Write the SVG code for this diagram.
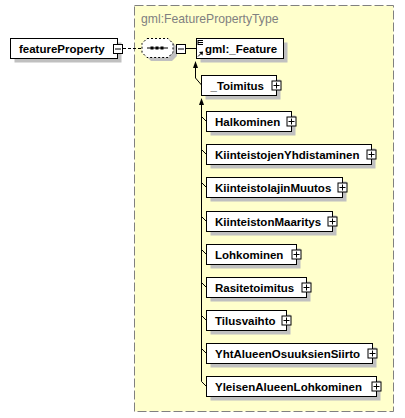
<svg xmlns="http://www.w3.org/2000/svg" width="405" height="418" viewBox="0 0 405 418">
<style>
.box{fill:#fff;stroke:#000;stroke-width:1}
.sh{fill:#c0c0c0}
.lbl{font-family:"Liberation Sans",Arial,sans-serif;font-weight:bold;font-size:11.5px;fill:#000}
.ln{stroke:#000;stroke-width:1;fill:none}
.pm{fill:#fff;stroke:#000;stroke-width:1}
</style>
<defs>
<g id="plus"><rect class="pm" x="-4.5" y="-4.5" width="9" height="9"/><path class="ln" d="M-3,0H3M0,-3V3"/></g>
<g id="minus"><rect class="pm" x="-4.5" y="-4.5" width="9" height="9"/><path class="ln" d="M-3,0H3"/></g>
</defs>
<rect x="134.5" y="5.5" width="259" height="406" fill="#ffffcc" stroke="#808080" stroke-dasharray="9,3"/>
<text x="141" y="23" font-family="Liberation Sans,Arial,sans-serif" font-size="12.2" fill="#808080">gml:FeaturePropertyType</text>

<g id="connectors">
<path class="ln" d="M123,48.5H142" stroke-dasharray="3,2"/>
<path class="ln" d="M186,48.5H196"/>
<path class="ln" d="M195.5,66V78L201.5,85"/>
<polygon points="195.5,61 193,68 198,68" fill="#000"/>
<path class="ln" d="M201.5,103V381.5"/>
<polygon points="201.5,98 199,105 204,105" fill="#000"/>
<path class="ln" d="M201.5,116.5L206.5,121.5M201.5,149.5L206.5,154.5M201.5,182.5L206.5,187.5M201.5,216.5L206.5,221.5M201.5,249.5L206.5,254.5M201.5,282.5L206.5,287.5M201.5,315.5L206.5,320.5M201.5,348.5L206.5,353.5M201.5,381.5L206.5,386.5"/>
</g>

<g id="featureProperty">
<rect class="sh" x="14.5" y="42.5" width="107" height="20"/>
<rect class="box" x="10.5" y="38.5" width="107" height="20"/>
<text class="lbl" x="19" y="53" font-size="11.9">featureProperty</text>
<use href="#minus" x="118" y="49"/>
</g>

<g id="sequence">
<polygon class="sh" points="151,42 172,42 177,47 177,56 172,61 151,61 146,56 146,47"/>
<polygon points="147,38.5 168,38.5 173,43.5 173,52.5 168,57.5 147,57.5 142,52.5 142,43.5" fill="#fff" stroke="#000" stroke-dasharray="2,2"/>
<path class="ln" d="M147,48H168"/>
<rect x="150.5" y="46.5" width="3" height="3"/>
<rect x="155.5" y="46.5" width="3" height="3"/>
<rect x="160.5" y="46.5" width="3" height="3"/>
<use href="#minus" x="181" y="49"/>
</g>

<g id="Feature">
<rect class="sh" x="200.5" y="42.5" width="87" height="20"/>
<rect class="box" x="196.5" y="38.5" width="87" height="20"/>
<path class="ln" d="M198,40.5H203M198,42.5H203M198,44.5H203M198,40V45"/>
<path class="ln" d="M198,56.5L202,52.5"/>
<polygon points="203,51.5 199,52 202.5,55.5" fill="#000"/>
<text class="lbl" x="205" y="53">gml:_Feature</text>
</g>

<g id="Toimitus">
<rect class="sh" x="205.5" y="79.5" width="75" height="20"/>
<rect class="box" x="201.5" y="75.5" width="75" height="20"/>
<text class="lbl" x="210.5" y="90">_Toimitus</text>
<use href="#plus" x="276.5" y="85.5"/>
</g>

<g id="Halkominen">
<rect class="sh" x="210.5" y="115.5" width="85" height="20"/>
<rect class="box" x="206.5" y="111.5" width="85" height="20"/>
<text class="lbl" x="215" y="126">Halkominen</text>
<use href="#plus" x="291.5" y="121.5"/>
</g>

<g id="KiinteistojenYhdistaminen">
<rect class="sh" x="210.5" y="148.5" width="165" height="20"/>
<rect class="box" x="206.5" y="144.5" width="165" height="20"/>
<text class="lbl" x="215" y="159">KiinteistojenYhdistaminen</text>
<use href="#plus" x="371.5" y="154.5"/>
</g>

<g id="KiinteistolajinMuutos">
<rect class="sh" x="210.5" y="181.5" width="136" height="20"/>
<rect class="box" x="206.5" y="177.5" width="136" height="20"/>
<text class="lbl" x="215" y="192">KiinteistolajinMuutos</text>
<use href="#plus" x="342.5" y="187.5"/>
</g>

<g id="KiinteistonMaaritys">
<rect class="sh" x="210.5" y="215.5" width="126" height="20"/>
<rect class="box" x="206.5" y="211.5" width="126" height="20"/>
<text class="lbl" x="215" y="226">KiinteistonMaaritys</text>
<use href="#plus" x="332.5" y="221.5"/>
</g>

<g id="Lohkominen">
<rect class="sh" x="210.5" y="248.5" width="90" height="20"/>
<rect class="box" x="206.5" y="244.5" width="90" height="20"/>
<text class="lbl" x="215" y="259">Lohkominen</text>
<use href="#plus" x="296.5" y="254.5"/>
</g>

<g id="Rasitetoimitus">
<rect class="sh" x="210.5" y="281.5" width="100" height="20"/>
<rect class="box" x="206.5" y="277.5" width="100" height="20"/>
<text class="lbl" x="215" y="292">Rasitetoimitus</text>
<use href="#plus" x="306.5" y="287.5"/>
</g>

<g id="Tilusvaihto">
<rect class="sh" x="210.5" y="314.5" width="80" height="20"/>
<rect class="box" x="206.5" y="310.5" width="80" height="20"/>
<text class="lbl" x="215" y="325">Tilusvaihto</text>
<use href="#plus" x="286.5" y="320.5"/>
</g>

<g id="YhtAlueenOsuuksienSiirto">
<rect class="sh" x="210.5" y="347.5" width="166" height="20"/>
<rect class="box" x="206.5" y="343.5" width="166" height="20"/>
<text class="lbl" x="215" y="358">YhtAlueenOsuuksienSiirto</text>
<use href="#plus" x="372.5" y="353.5"/>
</g>

<g id="YleisenAlueenLohkominen">
<rect class="sh" x="210.5" y="380.5" width="170" height="20"/>
<rect class="box" x="206.5" y="376.5" width="170" height="20"/>
<text class="lbl" x="215" y="391">YleisenAlueenLohkominen</text>
<use href="#plus" x="376.5" y="386.5"/>
</g>
</svg>
